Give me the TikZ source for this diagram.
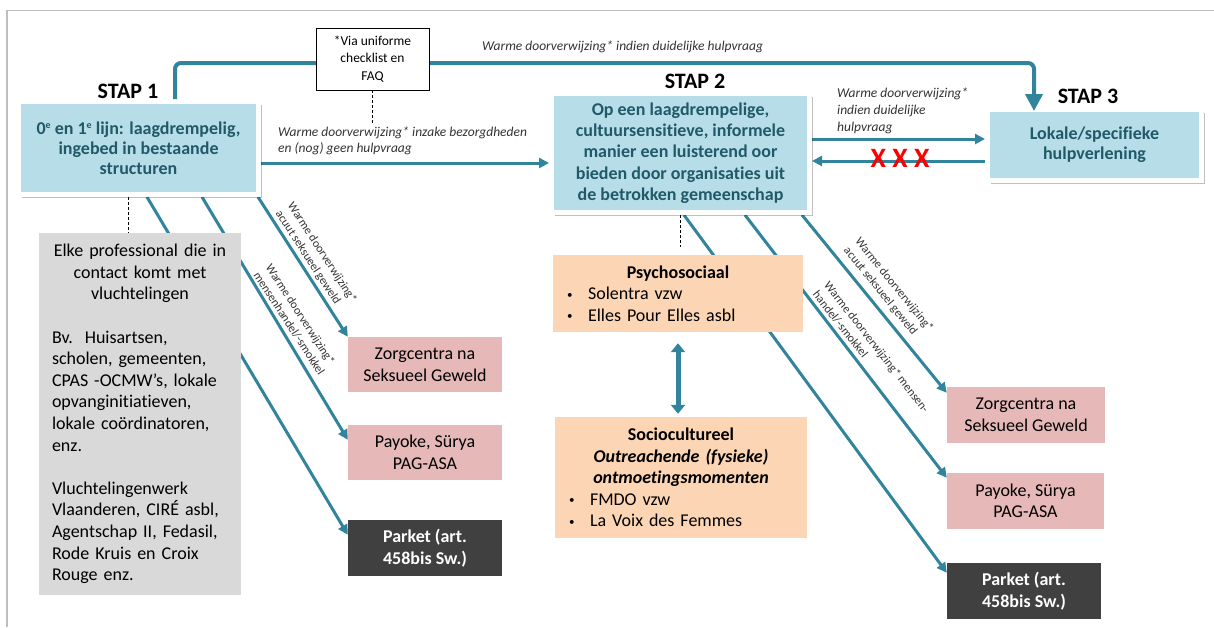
\documentclass[tikz,border=0pt]{standalone}
\usepackage{fontspec}
\setmainfont{Carlito}[Ligatures=NoCommon]
\usetikzlibrary{arrows.meta,shadows,calc}
\pgfdeclarelayer{bg}
\pgfsetlayers{bg,main}
\definecolor{teal1}{RGB}{49,132,155}
\definecolor{boxblue}{RGB}{183,222,232}
\definecolor{bluetext}{RGB}{33,89,104}
\definecolor{grayfill}{RGB}{217,217,217}
\definecolor{pinkfill}{RGB}{230,185,184}
\definecolor{peachfill}{RGB}{252,213,180}
\definecolor{darkfill}{RGB}{64,64,64}
\definecolor{framegray}{RGB}{191,191,191}
\newcommand\fmain{\fontsize{18pt}{21.6pt}\selectfont}
\newcommand\fblue{\fontsize{18pt}{20pt}\selectfont}
\newcommand\flab{\fontsize{13.5pt}{16.5pt}\selectfont}
\newcommand\frot{\fontsize{12pt}{14.5pt}\selectfont}
\newcommand\fstap{\fontsize{22pt}{26pt}\selectfont}
\newcommand\bul{\hspace*{2pt}\makebox[21pt][l]{\raisebox{1.5pt}{\fontsize{11pt}{11pt}\selectfont\textbullet}}}
\newcommand\supe{\raisebox{6pt}{\fontsize{10pt}{10pt}\selectfont e}}
\tikzset{
  bluebox/.style={draw=white, line width=5pt, fill=boxblue, text=bluetext, font=\fblue\bfseries, align=center, inner sep=0pt,
    drop shadow={shadow xshift=3pt, shadow yshift=-3.5pt, opacity=0.25, fill=black}},
  stapl/.style={font=\fstap\bfseries, inner sep=0pt},
  pinkbox/.style={fill=pinkfill, font=\fmain, align=center, inner sep=0pt},
  darkbox/.style={fill=darkfill, text=white, font=\fmain\bfseries, align=center, inner sep=0pt},
  arr/.style={teal1, line width=3pt, -{Triangle[length=10pt,width=10pt]}},
  dashln/.style={black, line width=0.8pt, dash pattern=on 3pt off 2pt},
  lab/.style={font=\flab\itshape, text=black!80, align=left, inner sep=0pt, anchor=west},
  rlab/.style={font=\frot, text=black!80, align=left, inner sep=0pt, anchor=west},
}
\begin{document}
\begin{tikzpicture}[x=1pt,y=-1pt]
\useasboundingbox (0,0) rectangle (1214,627);
\draw[framegray, line width=1.5pt] (7,627) -- (7,10.5) -- (1214,10.5);

% main step boxes
\node[bluebox, minimum width=240pt, minimum height=93pt] (s1) at (138.5,148)
  {0\supe{} en 1\supe{} lijn: laagdrempelig,\\ingebed in bestaande\\structuren};
\node[bluebox, minimum width=258pt, minimum height=119pt, font=\fontsize{18pt}{21.3pt}\selectfont\bfseries] (s2) at (680.5,153)
  {Op een laagdrempelige,\\cultuursensitieve, informele\\manier een luisterend oor\\bieden door organisaties uit\\de betrokken gemeenschap};
\node[bluebox, minimum width=214pt, minimum height=71pt] (s3) at (1094.5,145)
  {Lokale/specifieke\\hulpverlening};

\node[stapl] (t1) at (128,91) {STAP 1};
\node[stapl] (t2) at (695,81) {STAP 2};
\node[stapl] (t3) at (1088,96) {STAP 3};

% top arrow
\coordinate (topL) at (175,63);
\coordinate (topR) at (1034,63);
\draw[teal1, line width=4pt, rounded corners=6pt, -{Triangle[length=17pt,width=17pt]}, shorten >=-4pt]
  (s1.north -| topL) -- (topL) -- (topR) -- (s3.north -| topR);

% checklist box
\node[draw=black, line width=0.75pt, fill=white, minimum width=113pt, minimum height=62pt,
  font=\fontsize{13.5pt}{17.5pt}\selectfont, align=center, inner sep=0pt] (chk) at (372.5,59)
  {*Via uniforme\\checklist en\\FAQ};
\coordinate (chkd) at (372.5,123);
\draw[dashln] (chk.south) -- (chkd);

% grey box
\node[fill=grayfill, minimum width=202pt, minimum height=362pt, text width=176pt, inner xsep=13pt, inner ysep=0pt, font=\fmain] (g) at (140,414)
  {{\centering Elke professional die in\\contact komt met\\vluchtelingen\par}\vspace{21.6pt}\raggedright
   Bv.\ \ Huisartsen,\\scholen, gemeenten,\\CPAS -OCMW’s, lokale\\opvanginitiatieven,\\lokale coördinatoren,\\enz.\\[21.6pt]Vluchtelingenwerk\\Vlaanderen, CIRÉ asbl,\\Agentschap II, Fedasil,\\Rode Kruis en Croix\\Rouge enz.};

% left targets
\node[pinkbox, minimum width=154pt, minimum height=55pt] (zl) at (425,364.5) {Zorgcentra na\\Seksueel Geweld};
\node[pinkbox, minimum width=154pt, minimum height=55pt] (pl) at (425,452.5) {Payoke, Sürya\\PAG-ASA};
\node[darkbox, minimum width=154pt, minimum height=56pt] (kl) at (425,548) {Parket (art.\\458bis Sw.)};

% right targets
\node[pinkbox, minimum width=158pt, minimum height=56pt] (zr) at (1026,415) {Zorgcentra na\\Seksueel Geweld};
\node[pinkbox, minimum width=157pt, minimum height=56pt] (pr) at (1025.5,501) {Payoke, Sürya\\PAG-ASA};
\node[darkbox, minimum width=154pt, minimum height=56pt] (kr) at (1024,591) {Parket (art.\\458bis Sw.)};

% peach boxes
\node[fill=peachfill, minimum width=250pt, minimum height=77pt, text width=226pt, inner xsep=12pt, inner ysep=0pt, font=\fmain] (ps) at (678,293.5)
  {{\centering\bfseries Psychosociaal\par}\raggedright\bul Solentra vzw\\\bul Elles Pour Elles asbl};
\node[fill=peachfill, minimum width=252pt, minimum height=121pt, text width=228pt, inner xsep=12pt, inner ysep=0pt, font=\fmain] (so) at (681,477.5)
  {{\centering\bfseries Sociocultureel\\\itshape Outreachende (fysieke)\\ontmoetingsmomenten\par}\raggedright\bul FMDO vzw\\\bul La Voix des Femmes};

\draw[teal1, line width=5pt, {Triangle[length=9pt,width=14pt]}-{Triangle[length=9pt,width=14pt]}, shorten <=11pt, shorten >=3pt]
  (ps.south) -- (ps.south |- so.north);

% dashed links
\coordinate (d1) at (128,0);
\draw[dashln] (s1.south -| d1) -- (g.north -| d1);
\coordinate (d2) at (680,247);
\draw[dashln] (s2.south -| d2) -- (d2);

% connectors behind boxes
\begin{pgfonlayer}{bg}
\draw[arr] ([yshift=-15pt]s1.east) -- ([yshift=-10pt]s2.west);
\draw[arr] ([yshift=14pt]s2.east) -- ([yshift=6pt]s3.west);
\draw[arr] ([yshift=-16pt]s3.west) -- ([yshift=-8pt]s2.east);
\draw[arr] ([xshift=119.5pt]s1.south) -- (zl.north west);
\draw[arr] ([xshift=63.5pt]s1.south) -- ([yshift=-15pt]pl.north west);
\draw[arr] ([xshift=8.5pt]s1.south) -- ([yshift=-15pt]kl.north west);
\draw[arr] ([xshift=121.5pt]s2.south) -- ([yshift=-6pt]zr.north west);
\draw[arr] ([xshift=64.5pt]s2.south) -- ([yshift=-5pt]pr.north west);
\draw[arr] ([xshift=3.5pt]s2.south) -- ([yshift=-10pt]kr.north west);
\end{pgfonlayer}

\node[text=red, font=\fontsize{28pt}{30pt}\selectfont\bfseries, inner sep=0pt] (xx) at (900,158) {X X X};

% labels
\node[lab] (l1) at (482,47) {Warme doorverwijzing* indien duidelijke hulpvraag};
\node[lab, font=\fontsize{13.5pt}{16pt}\selectfont\itshape] (l2) at (278,141) {Warme doorverwijzing* inzake bezorgdheden\\en (nog) geen hulpvraag};
\node[lab, font=\fontsize{13.5pt}{17pt}\selectfont\itshape] (l3) at (837,111) {Warme doorverwijzing*\\indien duidelijke\\hulpvraag};
\node[rlab, rotate=-57] (r1) at (284,207.5) {Warme doorverwijzing*\\acuut seksueel geweld};
\node[rlab, rotate=-57] (r2) at (262.5,269) {Warme doorverwijzing*\\mensenhandel/-smokkel};
\node[rlab, rotate=-51] (r3) at (851.5,244) {Warme doorverwijzing*\\acuut seksueel geweld};
\node[rlab, rotate=-52] (r4) at (821,287.5) {Warme doorverwijzing* mensen-\\handel/-smokkel};
\end{tikzpicture}
\end{document}
